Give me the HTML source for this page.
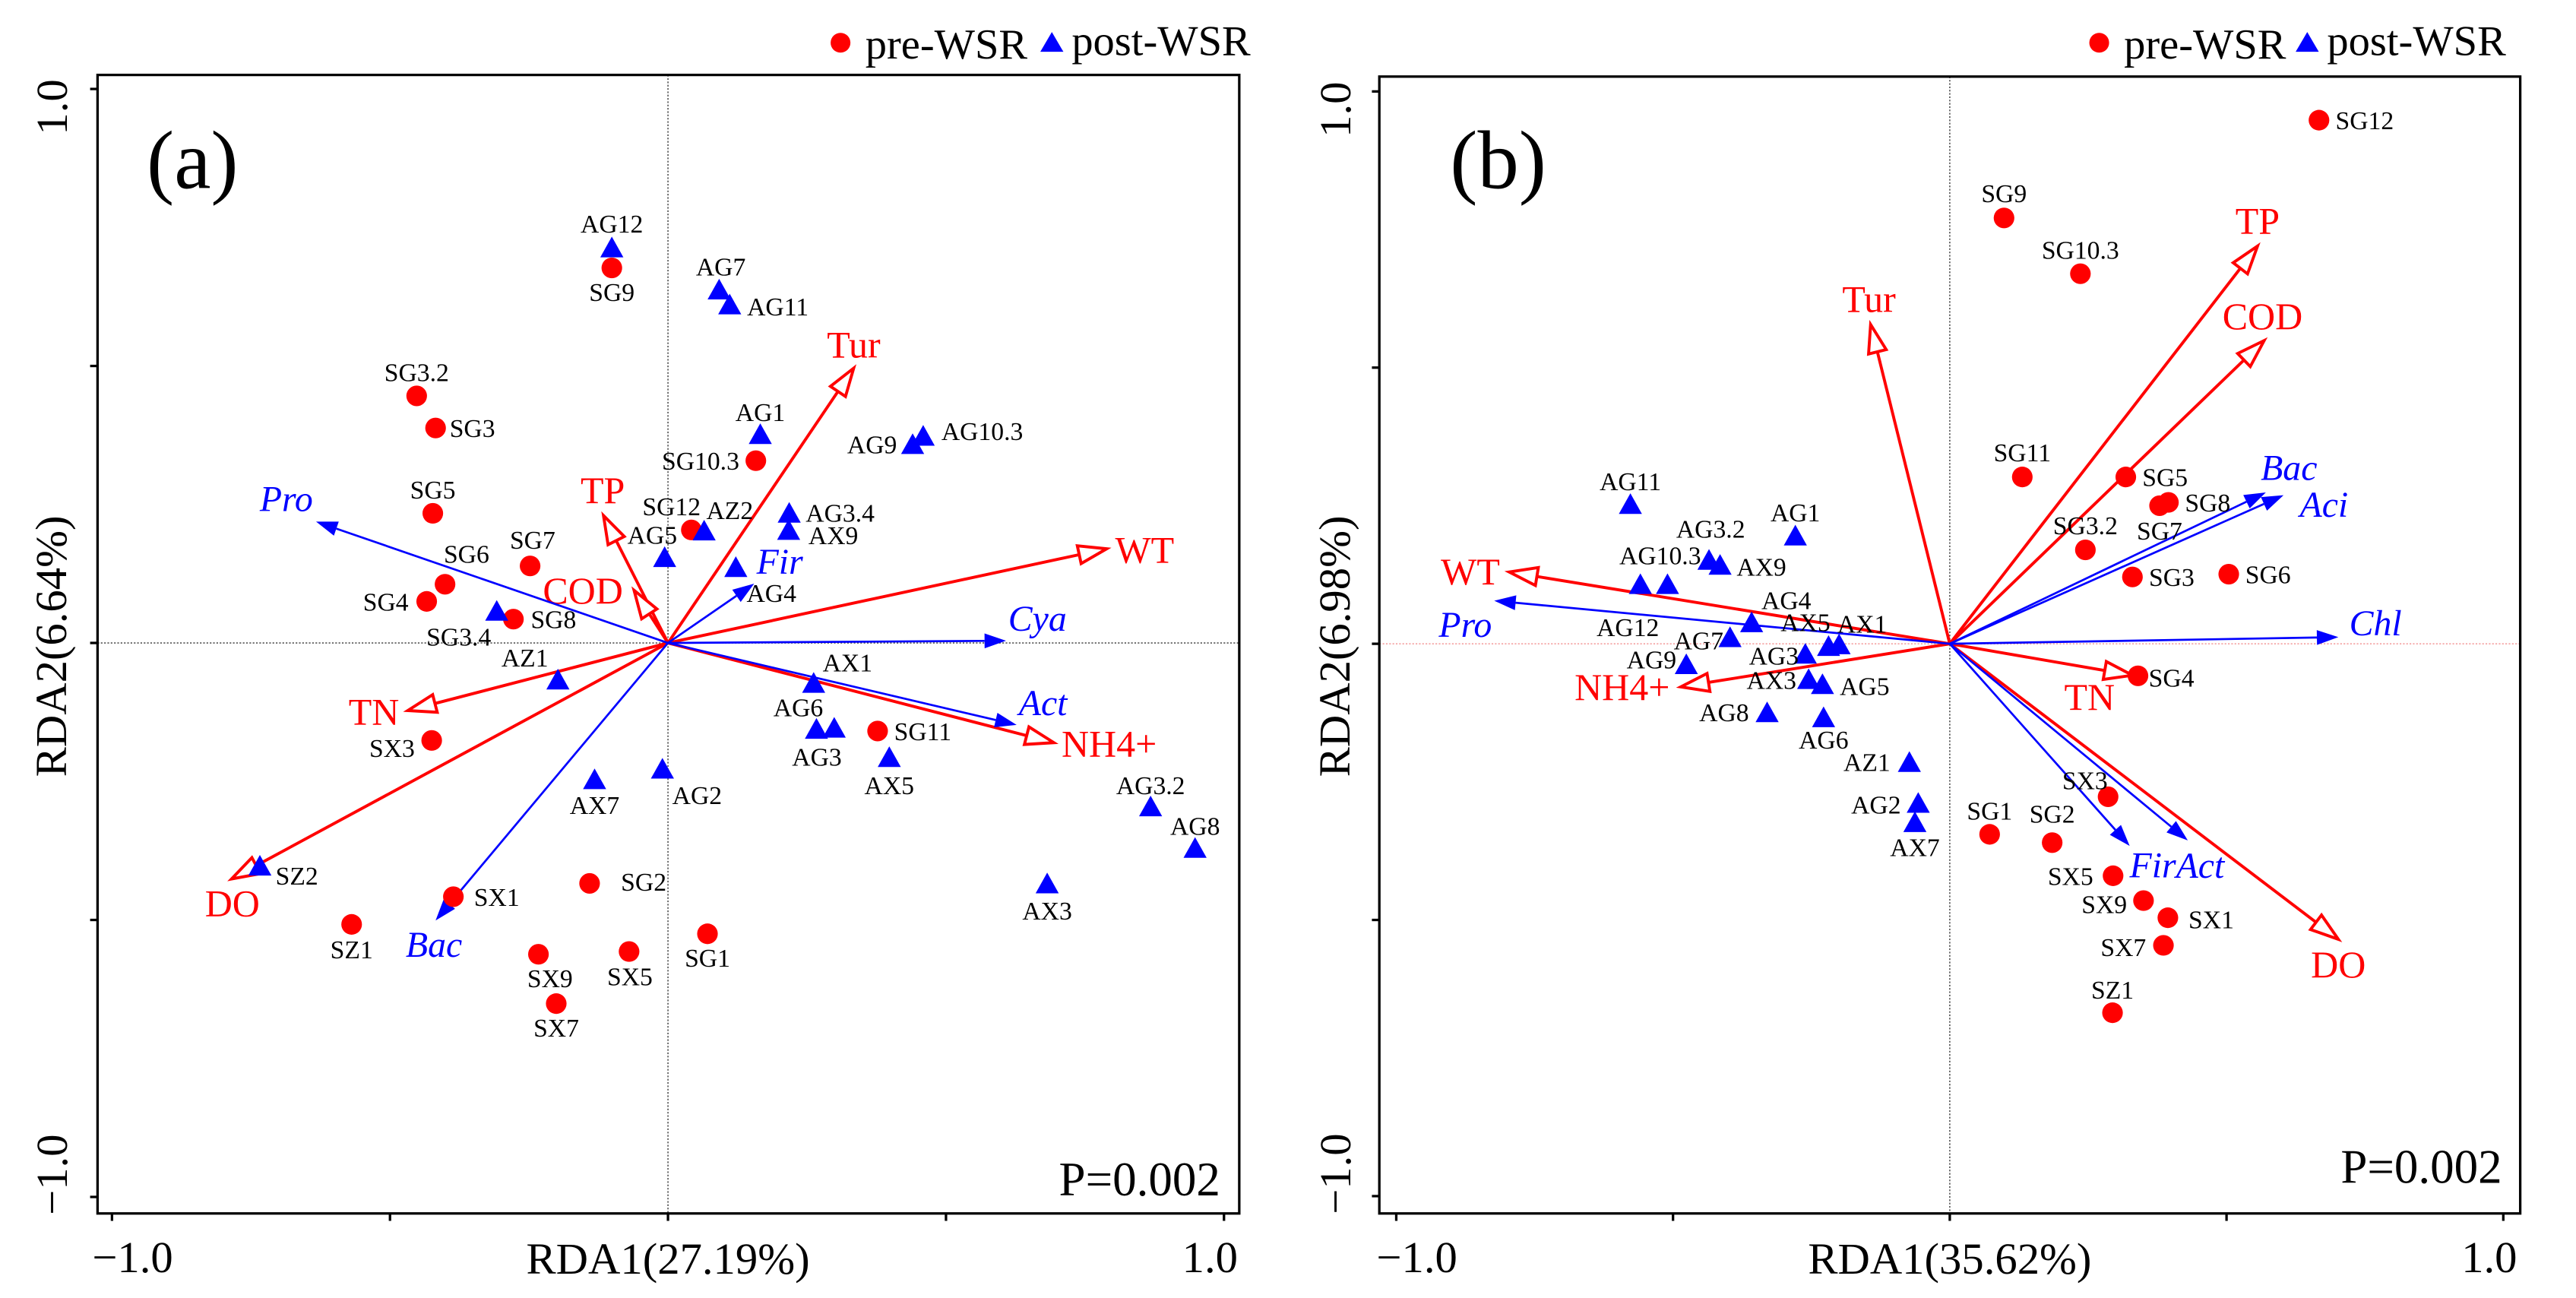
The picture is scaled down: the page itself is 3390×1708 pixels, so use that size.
<!DOCTYPE html>
<html><head><meta charset="utf-8"><style>
html,body{margin:0;padding:0;background:#fff;}
svg{display:block;}
svg text{font-family:"Liberation Serif","Times New Roman",serif;}
</style></head>
<body>
<svg id="fig" xmlns="http://www.w3.org/2000/svg" width="3390" height="1708" viewBox="0 0 3390 1708">
<rect width="3390" height="1708" fill="#fff"/>
</svg>
<script>
// ===== Panel (a) data =====
const aPreNames = ["SG9","SG3.2","SG3","SG10.3","SG5","SG12","SG7","SG6","SG4","SG8","SX3","SG11","SX1","SG2","SZ1","SX9","SX5","SG1","SX7"];
const aPreX = [-0.101,-0.452,-0.418,0.158,-0.423,0.042,-0.248,-0.401,-0.434,-0.278,-0.425,0.377,-0.386,-0.141,-0.569,-0.233,-0.070,0.071,-0.201];
const aPreY = [0.677,0.446,0.388,0.329,0.234,0.204,0.139,0.106,0.075,0.043,-0.176,-0.159,-0.458,-0.434,-0.508,-0.562,-0.557,-0.525,-0.651];
const aPostNames = ["AG12","AG7","AG11","AG1","AG9","AG10.3","AZ2","AG3.4","AX9","AG5","AG4","SG3.4","AZ1","AX1","AG6","AG3","AX5","AX7","AG2","AG3.2","AG8","AX3","SZ2"];
const aPostX = [-0.101,0.092,0.111,0.166,0.440,0.459,0.065,0.218,0.217,-0.006,0.122,-0.308,-0.198,0.262,0.267,0.299,0.398,-0.132,-0.010,0.868,0.948,0.682,-0.734];
const aPostY = [0.714,0.638,0.611,0.377,0.359,0.374,0.203,0.235,0.204,0.155,0.137,0.058,-0.066,-0.072,-0.155,-0.153,-0.206,-0.246,-0.227,-0.295,-0.370,-0.434,-0.402];
const aEnvNames = ["Tur","WT","NH4+","TN","DO","TP","COD"];
const aEnvX = [0.334,0.789,0.694,-0.468,-0.785,-0.116,-0.061];
const aEnvY = [0.496,0.170,-0.180,-0.122,-0.426,0.230,0.095];
const aSpNames = ["Pro","Cya","Act","Fir","Bac"];
const aSpX = [-0.633,0.608,0.627,0.155,-0.418];
const aSpY = [0.219,0.004,-0.148,0.107,-0.501];
// ===== Panel (b) data =====
const bPreNames = ["SG12","SG9","SG10.3","SG11","SG5","SG8","SG7","SG3.2","SG3","SG6","SG4","SX3","SG1","SG2","SX5","SX9","SX1","SX7","SZ1"];
const bPreX = [0.667,0.098,0.236,0.131,0.318,0.395,0.379,0.245,0.330,0.504,0.340,0.286,0.072,0.185,0.295,0.350,0.394,0.386,0.294];
const bPreY = [0.948,0.771,0.670,0.302,0.302,0.256,0.250,0.170,0.121,0.126,-0.058,-0.277,-0.345,-0.360,-0.420,-0.465,-0.496,-0.546,-0.668];
const bPostNames = ["AG11","AG1","AG3.2","AX9","AG10.3","AG12","AG4","AG7","AX5","AX1","AG9","AG3","AX3","AG5","AG8","AG6","AZ1","AG2","AX7"];
const bPostX = [-0.577,-0.279,-0.435,-0.415,-0.559,-0.510,-0.358,-0.397,-0.219,-0.200,-0.476,-0.261,-0.255,-0.230,-0.330,-0.228,-0.073,-0.057,-0.063];
const bPostY = [0.253,0.196,0.152,0.143,0.108,0.108,0.039,0.012,-0.004,-0.001,-0.037,-0.018,-0.064,-0.073,-0.124,-0.133,-0.214,-0.288,-0.323];
const bEnvNames = ["TP","COD","Tur","WT","NH4+","TN","DO"];
const bEnvX = [0.556,0.568,-0.143,-0.796,-0.486,0.330,0.702];
const bEnvY = [0.720,0.549,0.578,0.130,-0.078,-0.057,-0.535];
const bSpNames = ["Bac","Aci","Chl","Pro","Fir","Act"];
const bSpX = [0.571,0.603,0.702,-0.823,0.325,0.430];
const bSpY = [0.274,0.269,0.012,0.078,-0.366,-0.356];

// label placement offsets (layout, pixels): [dx, dy, anchor]
const aPreLab = {"SG9":[0,29,"m"],"SG3.2":[0,-29,"m"],"SG3":[17,0,"s"],"SG10.3":[-20,0,"e"],"SG5":[0,-29,"m"],"SG12":[-24,-29,"m"],"SG7":[3,-32,"m"],"SG6":[26,-37,"m"],"SG4":[-22,0,"e"],"SG8":[21,0,"s"],"SX3":[-48,9,"m"],"SG11":[20,0,"s"],"SX1":[25,0,"s"],"SG2":[38,-2,"s"],"SZ1":[0,30,"m"],"SX9":[14,29,"m"],"SX5":[1,30,"m"],"SG1":[0,29,"m"],"SX7":[0,29,"m"]};
const aPostLab = {"AG12":[0,-29,"m"],"AG7":[2,-28,"m"],"AG11":[21,2,"s"],"AG1":[0,-27,"m"],"AG9":[-19,0,"e"],"AG10.3":[22,-6,"s"],"AZ2":[31,-25,"m"],"AG3.4":[20,0,"s"],"AX9":[24,6,"s"],"AG5":[-15,-27,"m"],"AG4":[13,31,"s"],"SG3.4":[-46,31,"m"],"AZ1":[-40,-27,"m"],"AX1":[41,-25,"m"],"AG6":[-22,-26,"m"],"AG3":[-21,35,"m"],"AX5":[0,34,"m"],"AX7":[0,31,"m"],"AG2":[42,32,"m"],"AG3.2":[0,-26,"m"],"AG8":[0,-27,"m"],"AX3":[0,33,"m"],"SZ2":[19,12,"s"]};
const bPreLab = {"SG12":[20,0,"s"],"SG9":[0,-30,"m"],"SG10.3":[0,-29,"m"],"SG11":[0,-30,"m"],"SG5":[20,0,"s"],"SG8":[20,0,"s"],"SG7":[0,30,"m"],"SG3.2":[0,-30,"m"],"SG3":[20,0,"s"],"SG6":[20,0,"s"],"SG4":[13,2,"s"],"SX3":[-28,-20,"m"],"SG1":[0,-29,"m"],"SG2":[0,-35,"m"],"SX5":[-24,0,"e"],"SX9":[-20,4,"e"],"SX1":[25,2,"s"],"SX7":[-21,2,"e"],"SZ1":[0,-28,"m"]};
const bPostLab = {"AG11":[0,-28,"m"],"AG1":[0,-28,"m"],"AG3.2":[2,-38,"m"],"AX9":[20,2,"s"],"AG10.3":[24,-35,"m"],"AG12":[-48,52,"m"],"AG4":[42,-27,"m"],"AG7":[-8,4,"e"],"AX5":[-28,-29,"m"],"AX1":[28,-25,"m"],"AG9":[-12,-6,"e"],"AG3":[-8,2,"e"],"AX3":[-45,1,"m"],"AG5":[21,2,"s"],"AG8":[-22,0,"e"],"AG6":[0,27,"m"],"AZ1":[-23,0,"e"],"AG2":[-21,2,"e"],"AX7":[0,30,"m"]};
const aEnvLab = {"Tur":[0,-28],"WT":[46,2],"NH4+":[67,2],"TN":[-41,2],"DO":[1,30],"TP":[-1,-30],"COD":[-62,1]};
const aSpLab = {"Pro":[-36,-28],"Cya":[38,-27],"Act":[32,-27],"Fir":[31,-27],"Bac":[-2,29]};
const bEnvLab = {"TP":[0,-30],"COD":[-2,-29],"Tur":[-2,-30],"WT":[-47,0],"NH4+":[-71,1],"TN":[-52,27],"DO":[0,31]};
const bSpLab = {"Bac":[28,-30],"Aci":[49,11],"Chl":[45,-17],"Pro":[-35,29],"Fir":[28,23],"Act":[15,30]};

const NS="http://www.w3.org/2000/svg";
const svg=document.getElementById('fig');
function mk(tag,attrs,parent){const e=document.createElementNS(NS,tag);for(const k in attrs)e.setAttribute(k,attrs[k]);(parent||svg).appendChild(e);return e;}
const S=1.0864;
const FF='"Liberation Serif", "Times New Roman", serif';

function panel(cfg){
  const g=mk('g',{transform:`translate(${cfg.ox},3) scale(${S})`});
  
  
  const X=v=>cfg.x0+v*cfg.sx, Y=v=>cfg.y0-v*cfg.sy;
  const zl1=mk('line',{x1:cfg.bx0,x2:cfg.bx1,y1:Y(0),y2:Y(0),stroke:cfg.hcol,'stroke-width':1.5,'stroke-dasharray':'2,2'},g);
  
  
  const zl2=mk('line',{x1:X(0),x2:X(0),y1:cfg.by0,y2:cfg.by1,stroke:'#555','stroke-width':1.5,'stroke-dasharray':'2,2'},g);
  
  
  const box=mk('rect',{x:cfg.bx0,y:cfg.by0,width:cfg.bx1-cfg.bx0,height:cfg.by1-cfg.by0,fill:'none',stroke:'#000','stroke-width':3},g);
  
  
  [-1,-0.5,0,0.5,1].forEach(t=>{
    const tk=mk('line',{x1:X(t),x2:X(t),y1:cfg.by1,y2:cfg.by1+9,stroke:'#000','stroke-width':3},g);
    
    
    const ty=mk('line',{x1:cfg.bx0,x2:cfg.bx0-9,y1:Y(t),y2:Y(t),stroke:'#000','stroke-width':3},g);
    
    
  });
  const txt=(s,x,y,o)=>{const e=mk('text',Object.assign({x:x,y:y,'font-family':FF},o||{}),g);e.textContent=s;return e;};
  let t;
  t=txt('\u22121.0',X(-1)+25,1538,{'font-size':54,'text-anchor':'middle'});
  
  
  t=txt('1.0',X(1)-17,1538,{'font-size':54,'text-anchor':'middle'});
  
  
  t=txt('1.0',0,0,{'font-size':54,'text-anchor':'middle',transform:`translate(83,${Y(1)+22}) rotate(-90)`});
  
  
  t=txt('\u22121.0',0,0,{'font-size':54,'text-anchor':'middle',transform:`translate(83,${Y(-1)-27}) rotate(-90)`});
  
  
  t=txt(cfg.xlab,X(0),1540,{'font-size':54,'text-anchor':'middle'});
  
  
  t=txt(cfg.ylab,0,0,{'font-size':54,'text-anchor':'middle',transform:`translate(82,780) rotate(-90)`});
  
  
  t=txt(cfg.tag,cfg.tagx,225,{'font-size':100,'text-anchor':'middle'});
  
  
  t=txt('P=0.002',cfg.px,cfg.py,{'font-size':58,'text-anchor':'end'});
  
  
  const lc=mk('circle',{cx:cfg.lgx,cy:49,r:12,fill:'#f00'},g);
  
  
  t=txt('pre-WSR',cfg.lgx+30,68,{'font-size':52});
  
  
  const tx=cfg.lgx+cfg.lgdt;
  const lt=mk('polygon',{points:`${tx-14},60 ${tx+14},60 ${tx},36`,fill:'#00f'},g);
  
  
  t=txt('post-WSR',tx+24,64,{'font-size':52});
  
  
  const anc={m:'middle',s:'start',e:'end'};
  cfg.envN.forEach((n,i)=>{
    const x2=X(cfg.envX[i]),y2=Y(cfg.envY[i]),x1=X(0),y1=Y(0);
    const ang=Math.atan2(y2-y1,x2-x1),L=34,W=11;
    const bx=x2-L*Math.cos(ang),by=y2-L*Math.sin(ang);
    const px=-Math.sin(ang)*W,py=Math.cos(ang)*W;
    const ln=mk('line',{x1:x1,y1:y1,x2:bx,y2:by,stroke:'#f00','stroke-width':3.6},g);
    
    
    const hd=mk('polygon',{points:`${x2},${y2} ${bx+px},${by+py} ${bx-px},${by-py}`,fill:'#fff',stroke:'#f00','stroke-width':3.6},g);
    
    
    const o=cfg.envL[n];
    const lb=txt(n,x2+o[0],y2+o[1]+15,{'font-size':46,fill:'#f00','text-anchor':'middle'});
    
    
  });
  cfg.spN.forEach((n,i)=>{
    const x2=X(cfg.spX[i]),y2=Y(cfg.spY[i]),x1=X(0),y1=Y(0);
    const ang=Math.atan2(y2-y1,x2-x1),L=26,W=9;
    const bx=x2-L*Math.cos(ang),by=y2-L*Math.sin(ang);
    const px=-Math.sin(ang)*W,py=Math.cos(ang)*W;
    const ln=mk('line',{x1:x1,y1:y1,x2:bx,y2:by,stroke:'#00f','stroke-width':2.5},g);
    
    
    const hd=mk('polygon',{points:`${x2},${y2} ${bx+px},${by+py} ${bx-px},${by-py}`,fill:'#00f'},g);
    
    
    const o=cfg.spL[n];
    const lb=txt(n,x2+o[0],y2+o[1]+15,{'font-size':44,fill:'#00f','text-anchor':'middle','font-style':'italic'});
    
    
  });
  cfg.preN.forEach((n,i)=>{
    const cx=X(cfg.preX[i]),cy=Y(cfg.preY[i]);
    const c=mk('circle',{cx:cx,cy:cy,r:12.5,fill:'#f00'},g);
    
    
    const o=cfg.preL[n]||[0,28,'m'];
    const lb=txt(n,cx+o[0],cy+o[1]+11,{'font-size':31,'text-anchor':anc[o[2]]});
    
    
  });
  cfg.postN.forEach((n,i)=>{
    const cx=X(cfg.postX[i]),cy=Y(cfg.postY[i]);
    const tr=mk('polygon',{points:`${cx-14},${cy+12} ${cx+14},${cy+12} ${cx},${cy-13}`,fill:'#00f'},g);
    
    
    const o=cfg.postL[n]||[0,28,'m'];
    const lb=txt(n,cx+o[0],cy+o[1]+11,{'font-size':31,'text-anchor':anc[o[2]]});
    
    
  });
}

panel({id:'a',ox:-2,x0:811,sx:673.5,y0:776,sy:671,bx0:120,bx1:1503,by0:88,by1:1467,hcol:'#555',
  xlab:'RDA1(27.19%)',ylab:'RDA2(6.64%)',tag:'(a)',tagx:235,px:1480,py:1445,lgx:1020,lgdt:256,
  preN:aPreNames,preX:aPreX,preY:aPreY,postN:aPostNames,postX:aPostX,postY:aPostY,
  envN:aEnvNames,envX:aEnvX,envY:aEnvY,spN:aSpNames,spX:aSpX,spY:aSpY,
  preL:aPreLab,postL:aPostLab,envL:aEnvLab,spL:aSpLab});
panel({id:'b',ox:1687,x0:809,sx:670.5,y0:777,sy:669,bx0:118,bx1:1500,by0:90,by1:1467,hcol:'#f4a0a0',
  xlab:'RDA1(35.62%)',ylab:'RDA2(6.98%)',tag:'(b)',tagx:262,px:1478,py:1430,lgx:990,lgdt:252,
  preN:bPreNames,preX:bPreX,preY:bPreY,postN:bPostNames,postX:bPostX,postY:bPostY,
  envN:bEnvNames,envX:bEnvX,envY:bEnvY,spN:bSpNames,spX:bSpX,spY:bSpY,
  preL:bPreLab,postL:bPostLab,envL:bEnvLab,spL:bSpLab});
</script>
</body></html>
